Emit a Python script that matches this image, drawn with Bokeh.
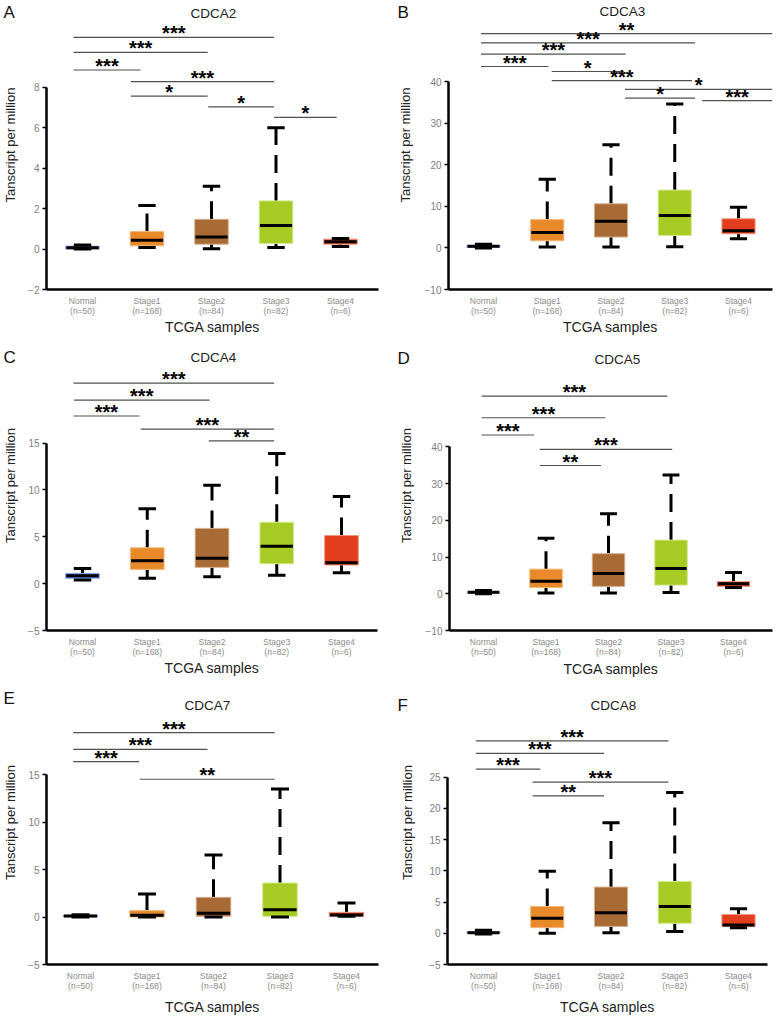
from bokeh.plotting import figure
from bokeh.layouts import column, row
from bokeh.models import Range1d, FixedTicker, ColumnDataSource
from bokeh.embed import file_html
from bokeh.resources import INLINE
from bokeh.core.properties import value

FONT = "Liberation Sans"

# ---------------- data ----------------
groups = ["Normal", "Stage1", "Stage2", "Stage3", "Stage4"]
group_n = [50, 168, 84, 82, 6]
fill_colors = ["#4A6FD6", "#E8892A", "#A86B35", "#A7CA24", "#E23D1C"]
edge_colors = ["#8FA8EE", "#F3B77C", "#D6B08E", "#D3E98C", "#F3957E"]

genes = ["CDCA2", "CDCA3", "CDCA4", "CDCA5", "CDCA7", "CDCA8"]
panel_letters = ["A", "B", "C", "D", "E", "F"]

cdca2_ticks = [-2, 0, 2, 4, 6, 8]
cdca3_ticks = [-10, 0, 10, 20, 30, 40]
cdca4_ticks = [-5, 0, 5, 10, 15]
cdca5_ticks = [-10, 0, 10, 20, 30, 40]
cdca7_ticks = [-5, 0, 5, 10, 15]
cdca8_ticks = [-5, 0, 5, 10, 15, 20, 25]

# box statistics per group: lower whisker, Q1, median, Q3, upper whisker
cdca2_low = [0.00, 0.08, 0.02, 0.08, 0.13]
cdca2_q1 = [0.00, 0.16, 0.24, 0.28, 0.24]
cdca2_med = [0.06, 0.44, 0.60, 1.16, 0.36]
cdca2_q3 = [0.14, 0.87, 1.47, 2.38, 0.49]
cdca2_high = [0.20, 2.15, 3.10, 6.00, 0.52]

cdca3_low = [0.0, 0.2, 0.2, 0.3, 2.2]
cdca3_q1 = [0.1, 1.7, 2.6, 3.0, 3.4]
cdca3_med = [0.4, 3.7, 6.4, 7.8, 4.1]
cdca3_q3 = [0.6, 6.8, 10.6, 13.9, 7.0]
cdca3_high = [0.9, 16.5, 24.8, 34.6, 9.8]

cdca4_low = [0.39, 0.57, 0.74, 0.89, 1.17]
cdca4_q1 = [0.57, 1.52, 1.74, 2.13, 1.99]
cdca4_med = [0.85, 2.45, 2.70, 4.00, 2.23]
cdca4_q3 = [1.10, 3.83, 5.90, 6.56, 5.14]
cdca4_high = [1.63, 8.00, 10.50, 13.90, 9.30]

cdca5_low = [0.0, 0.2, 0.2, 0.36, 1.7]
cdca5_q1 = [0.1, 1.7, 2.0, 2.35, 2.0]
cdca5_med = [0.4, 3.4, 5.5, 6.9, 2.7]
cdca5_q3 = [0.6, 6.7, 10.9, 14.6, 3.3]
cdca5_high = [0.9, 15.1, 21.8, 32.3, 5.8]

cdca7_low = [0.00, 0.00, 0.00, 0.00, 0.07]
cdca7_q1 = [0.02, 0.00, 0.07, 0.07, 0.07]
cdca7_med = [0.10, 0.18, 0.39, 0.77, 0.21]
cdca7_q3 = [0.18, 0.67, 2.07, 3.58, 0.49]
cdca7_high = [0.25, 2.42, 6.53, 13.47, 1.47]

cdca8_low = [-0.10, 0.00, 0.10, 0.27, 0.90]
cdca8_q1 = [0.00, 0.90, 1.10, 1.60, 1.06]
cdca8_med = [0.10, 2.40, 3.30, 4.30, 1.33]
cdca8_q3 = [0.25, 4.30, 7.40, 8.30, 3.00]
cdca8_high = [0.50, 9.95, 17.70, 22.55, 3.94]

# significance brackets: (from, to, level, stars)
cdca2_brackets = [(-0.14, 0.90, 8.85, "***"), (-0.14, 1.94, 9.72, "***"),
                  (-0.14, 2.97, 10.46, "***"), (0.75, 2.97, 8.28, "***"),
                  (0.75, 1.94, 7.56, "*"), (1.95, 2.97, 7.03, "*"),
                  (2.97, 3.94, 6.51, "*")]
cdca3_brackets = [(-0.04, 1.02, 43.6, "***"), (-0.04, 2.23, 46.6, "***"),
                  (-0.04, 3.32, 49.3, "***"), (-0.04, 4.53, 51.5, "**"),
                  (1.07, 2.20, 42.4, "*"), (1.07, 3.27, 40.2, "***"),
                  (2.22, 4.53, 38.1, "*"), (2.22, 3.32, 36.0, "*"),
                  (3.43, 4.53, 35.4, "***")]
cdca4_brackets = [(-0.14, 0.88, 17.9, "***"), (-0.13, 1.96, 19.6, "***"),
                  (-0.14, 2.96, 21.4, "***"), (0.90, 2.96, 16.5, "***"),
                  (1.95, 2.96, 15.25, "**")]
cdca5_brackets = [(-0.03, 2.94, 53.8, "***"), (-0.03, 1.95, 47.9, "***"),
                  (-0.03, 0.81, 43.2, "***"), (0.90, 3.02, 39.3, "***"),
                  (0.90, 1.88, 34.9, "**")]
cdca7_brackets = [(-0.11, 2.92, 19.4, "***"), (-0.11, 1.91, 17.65, "***"),
                  (-0.11, 0.88, 16.35, "***"), (0.89, 2.92, 14.5, "**")]
cdca8_brackets = [(-0.12, 2.90, 30.8, "***"), (-0.12, 1.89, 28.8, "***"),
                  (-0.12, 0.89, 26.3, "***"), (0.77, 2.90, 24.2, "***"),
                  (0.77, 1.89, 22.0, "**")]

panel_stats = [
    (cdca2_ticks, cdca2_low, cdca2_q1, cdca2_med, cdca2_q3, cdca2_high, cdca2_brackets),
    (cdca3_ticks, cdca3_low, cdca3_q1, cdca3_med, cdca3_q3, cdca3_high, cdca3_brackets),
    (cdca4_ticks, cdca4_low, cdca4_q1, cdca4_med, cdca4_q3, cdca4_high, cdca4_brackets),
    (cdca5_ticks, cdca5_low, cdca5_q1, cdca5_med, cdca5_q3, cdca5_high, cdca5_brackets),
    (cdca7_ticks, cdca7_low, cdca7_q1, cdca7_med, cdca7_q3, cdca7_high, cdca7_brackets),
    (cdca8_ticks, cdca8_low, cdca8_q1, cdca8_med, cdca8_q3, cdca8_high, cdca8_brackets),
]

# ---------------- layout (pixels, local to each panel canvas) ----------------
layouts = [
    dict(w=390, h=340, L=46, R=378, bottom=290, top_tick=87, c0=82, sp=64.5, ys=7, xs=0),
    dict(w=387, h=340, L=58, R=382, bottom=289, top_tick=81, c0=93, sp=63.75, ys=9, xs=0),
    dict(w=390, h=340, L=46, R=377, bottom=291, top_tick=103, c0=82, sp=64.75, ys=7, xs=0),
    dict(w=387, h=340, L=59, R=382, bottom=292, top_tick=107, c0=93, sp=62.5, ys=9, xs=1),
    dict(w=390, h=341, L=46, R=378, bottom=284, top_tick=94, c0=80, sp=66.5, ys=7, xs=5),
    dict(w=387, h=341, L=57, R=377, bottom=285, top_tick=97, c0=93, sp=63.75, ys=11, xs=5),
]
PAGE_W, PAGE_H = 777, 1021
# page positions of panel letters (left x, centre y) and gene titles (centre x, centre y)
letter_pos = [(3, 12), (397, 12), (3, 357), (397, 358), (3, 698), (397, 705)]
title_pos = [(213, 13), (622, 11), (213, 357), (617, 359), (207, 705), (613, 705)]

BOX_W = 0.52
CAP_W = 0.27
MED_W = 0.50


def make_panel(k):
    lay = layouts[k]
    ticks, low, q1, med, q3, high, brackets = panel_stats[k]
    ymin, ymax = ticks[0], ticks[-1]
    ppu = (lay["bottom"] - lay["top_tick"]) / (ymax - ymin)
    y_end = ymax + lay["top_tick"] / ppu
    x_start = -(lay["c0"] - lay["L"]) / lay["sp"]
    x_end = x_start + (lay["R"] - lay["L"]) / lay["sp"]

    p = figure(width=lay["w"], height=lay["h"],
               x_range=Range1d(x_start, x_end), y_range=Range1d(ymin, y_end),
               output_backend="svg", toolbar_location=None,
               min_border_left=lay["L"], min_border_right=lay["w"] - lay["R"],
               min_border_top=0, min_border_bottom=lay["h"] - lay["bottom"],
               x_axis_label="TCGA samples", y_axis_label="Tanscript per million")
    p.outline_line_color = None
    p.grid.visible = False
    p.background_fill_color = "white"
    p.border_fill_color = "white"

    ya = p.yaxis[0]
    ya.bounds = (ymin, ymax)
    ya.ticker = FixedTicker(ticks=ticks)
    ya.axis_line_width = 2.5
    ya.axis_line_color = "black"
    ya.major_tick_out = 4
    ya.major_tick_in = 0
    ya.major_tick_line_width = 1.5
    ya.major_tick_line_color = "black"
    ya.minor_tick_line_color = None
    ya.major_label_text_font = FONT
    ya.major_label_text_font_size = "10px"
    ya.major_label_text_color = "#808080"
    ya.major_label_standoff = 3
    ya.axis_label_standoff = lay["ys"]
    ya.axis_label_text_font = FONT
    ya.axis_label_text_font_size = "13px"
    ya.axis_label_text_font_style = "normal"
    ya.axis_label_text_color = "#222222"

    xa = p.xaxis[0]
    xa.ticker = FixedTicker(ticks=list(range(len(groups))))
    xa.major_label_overrides = {i: f"{g}\n(n={n})" for i, (g, n) in enumerate(zip(groups, group_n))}
    xa.axis_line_width = 2.5
    xa.axis_line_color = "black"
    xa.major_tick_line_color = None
    xa.major_tick_out = 0
    xa.major_tick_in = 0
    xa.minor_tick_line_color = None
    xa.minor_tick_out = 0
    xa.major_label_text_font = FONT
    xa.major_label_text_font_size = "8.5px"
    xa.major_label_text_line_height = 1.05
    xa.major_label_text_color = "#8a8a8a"
    xa.major_label_standoff = 6
    xa.axis_label_standoff = lay["xs"]
    xa.axis_label_text_font = FONT
    xa.axis_label_text_font_size = "14px"
    xa.axis_label_text_font_style = "normal"
    xa.axis_label_text_color = "#222222"

    idx = list(range(len(groups)))
    src = ColumnDataSource(dict(
        x=idx, low=low, q1=q1, med=med, q3=q3, high=high,
        fill=fill_colors, edge=edge_colors,
        bl=[i - MED_W / 2 for i in idx], br=[i + MED_W / 2 for i in idx],
        cl=[i - CAP_W / 2 for i in idx], cr=[i + CAP_W / 2 for i in idx],
    ))
    # whiskers (dashed)
    p.segment(x0="x", y0="q3", x1="x", y1="high", source=src, line_color="black",
              line_width=3, line_dash="18 10")
    p.segment(x0="x", y0="q1", x1="x", y1="low", source=src, line_color="black",
              line_width=3, line_dash="18 10")
    # boxes
    p.vbar(x="x", width=BOX_W, bottom="q1", top="q3", source=src,
           fill_color="fill", line_color="edge", line_width=1)
    # medians
    p.segment(x0="bl", y0="med", x1="br", y1="med", source=src, line_color="black", line_width=3)
    # caps
    p.segment(x0="cl", y0="high", x1="cr", y1="high", source=src, line_color="black", line_width=3)
    p.segment(x0="cl", y0="low", x1="cr", y1="low", source=src, line_color="black", line_width=3)

    # significance brackets
    bsrc = ColumnDataSource(dict(
        x0=[b[0] for b in brackets], x1=[b[1] for b in brackets],
        y=[b[2] for b in brackets], s=[b[3] for b in brackets],
        xm=[(b[0] + b[1]) / 2 for b in brackets],
    ))
    p.segment(x0="x0", y0="y", x1="x1", y1="y", source=bsrc, line_color="#505050", line_width=1.2)
    p.text(x="xm", y="y", text="s", source=bsrc, text_align="center",
           text_baseline="alphabetic", y_offset=-4, text_font=value(FONT),
           text_font_size="20px", text_font_style="bold", text_color="black")
    return p


panels = [make_panel(k) for k in range(6)]
grid = column(row(panels[0], panels[1]), row(panels[2], panels[3]), row(panels[4], panels[5]))

# transparent page-size overlay carrying the panel letters and gene titles
overlay = figure(width=PAGE_W, height=PAGE_H, x_range=Range1d(0, PAGE_W), y_range=Range1d(PAGE_H, 0),
                 output_backend="svg", toolbar_location=None, x_axis_type=None, y_axis_type=None,
                 min_border=0, min_border_left=0, min_border_right=0, min_border_top=0,
                 min_border_bottom=0, margin=(-PAGE_H, 0, 0, 0))
overlay.outline_line_color = None
overlay.grid.visible = False
overlay.background_fill_alpha = 0
overlay.border_fill_alpha = 0
lsrc = ColumnDataSource(dict(x=[q[0] for q in letter_pos], y=[q[1] for q in letter_pos],
                             t=panel_letters))
overlay.text(x="x", y="y", text="t", source=lsrc, text_align="left", text_baseline="middle",
             text_font=value(FONT), text_font_size="17px", text_color="#111111")
tsrc = ColumnDataSource(dict(x=[q[0] for q in title_pos], y=[q[1] for q in title_pos],
                             t=genes))
overlay.text(x="x", y="y", text="t", source=tsrc, text_align="center", text_baseline="middle",
             text_font=value(FONT), text_font_size="13.5px", text_color="#222222")

page = column(grid, overlay)

with open("out.html", "w") as f:
    f.write(file_html(page, INLINE, title="CDCA expression by stage"))
